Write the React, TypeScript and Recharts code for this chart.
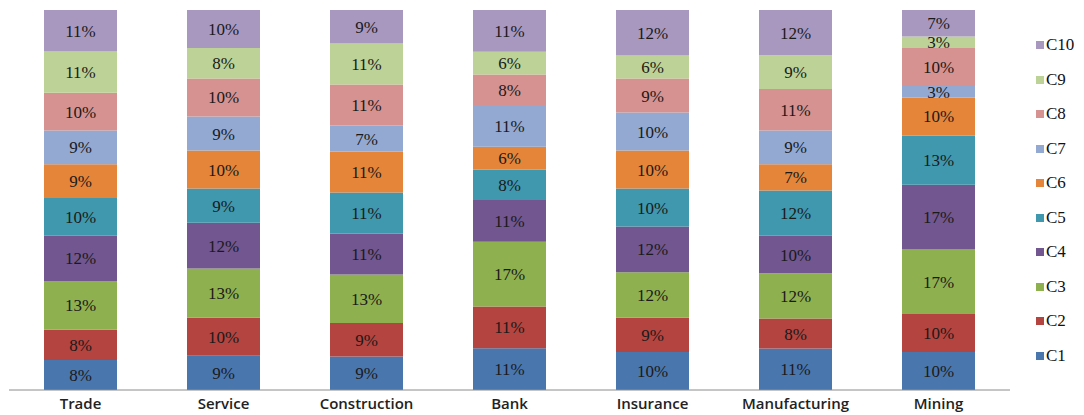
import { BarChart, Bar, XAxis, YAxis, LabelList } from "recharts";

const categories = ["Trade", "Service", "Construction", "Bank", "Insurance", "Manufacturing", "Mining"];
const seriesKeys = ["C1", "C2", "C3", "C4", "C5", "C6", "C7", "C8", "C9", "C10"];

const c1 = [8, 9, 9, 11, 10, 11, 10];
const c2 = [8, 10, 9, 11, 9, 8, 10];
const c3 = [13, 13, 13, 17, 12, 12, 17];
const c4 = [12, 12, 11, 11, 12, 10, 17];
const c5 = [10, 9, 11, 8, 10, 12, 13];
const c6 = [9, 10, 11, 6, 10, 7, 10];
const c7 = [9, 9, 7, 11, 10, 9, 3];
const c8 = [10, 10, 11, 8, 9, 11, 10];
const c9 = [11, 8, 11, 6, 6, 9, 3];
const c10 = [11, 10, 9, 11, 12, 12, 7];

const seriesValues = [c1, c2, c3, c4, c5, c6, c7, c8, c9, c10];

const colors = [
  "#4a76ae",
  "#b4443f",
  "#8fb04f",
  "#71568f",
  "#3f98ae",
  "#e5853a",
  "#93a9d2",
  "#d69290",
  "#bcd296",
  "#a898c0",
];

const serif = "Liberation Serif, serif";

const data = categories.map((name, i) => {
  const row: { [k: string]: string | number } = { name };
  seriesKeys.forEach((k, s) => {
    row[k] = seriesValues[s][i];
  });
  return row;
});

// legend drawn by hand so the order runs C10 at the top down to C1
function SideLegend() {
  const items = seriesKeys.map((k, s) => ({ key: k, color: colors[s] })).reverse();
  return (
    <div style={{ position: "absolute", left: 1036, top: 28, display: "flex", flexDirection: "column" }}>
      {items.map((p) => (
        <div
          key={p.key}
          style={{
            display: "flex",
            alignItems: "center",
            height: 34.5,
            fontFamily: serif,
            fontSize: 17,
            color: "#111",
          }}
        >
          <span style={{ width: 8, height: 8, background: p.color, marginRight: 2, display: "inline-block" }} />
          {p.key}
        </div>
      ))}
    </div>
  );
}

export default function App() {
  return (
    <div style={{ position: "absolute", left: 0, top: 0, width: 1084, height: 415, background: "#fff" }}>
      <BarChart
        width={1084}
        height={415}
        data={data}
        stackOffset="expand"
        margin={{ top: 10, right: 74, left: 9, bottom: 0 }}
        barSize={73}
      >
        <XAxis
          dataKey="name"
          tickLine={false}
          axisLine={{ stroke: "#8c8c8c" }}
          tick={{ fontSize: 15, fontWeight: 600, fill: "#222", fontFamily: "Open Sans, sans-serif" }}
          interval={0}
          height={25}
        />
        <YAxis hide domain={[0, 1]} />
        {seriesKeys.map((k, s) => (
          <Bar key={k} dataKey={k} stackId="a" fill={colors[s]} isAnimationActive={false}>
            <LabelList
              dataKey={k}
              position="center"
              formatter={(v: any) => `${v}%`}
              fontFamily={serif}
              fontSize={17}
              fill="#1a1a1a"
            />
          </Bar>
        ))}
      </BarChart>
      <SideLegend />
    </div>
  );
}
